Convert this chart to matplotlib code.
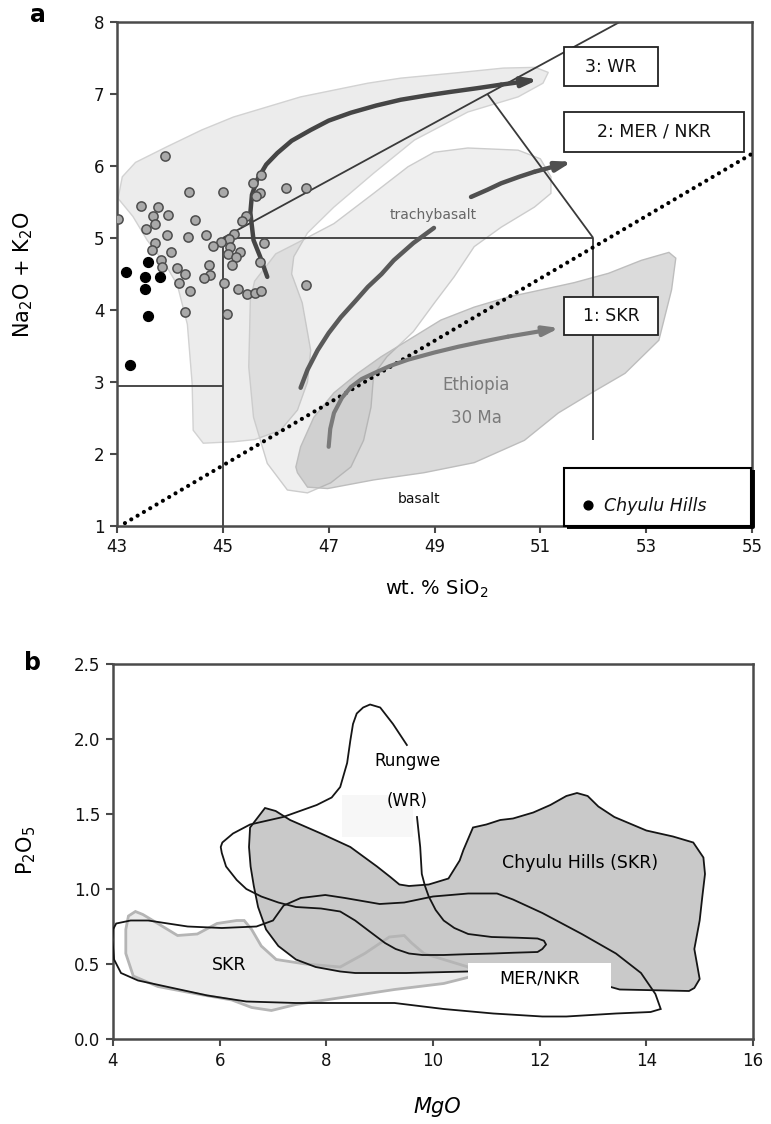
import matplotlib
matplotlib.use('Agg')
import matplotlib.pyplot as plt
from matplotlib.patches import Polygon, Rectangle

plt.rcParams['font.family'] = ['DejaVu Sans']
plt.rcParams['mathtext.fontset'] = 'dejavusans'

# ---------------- Panel a data ----------------
gray_x = [43.91, 44.36, 45.00, 45.57, 45.73, 45.70, 45.62, 46.20, 46.58, 43.02,
          43.45, 43.78, 43.97, 43.68, 43.72, 43.55, 44.48, 45.43, 45.36, 43.95,
          44.35, 44.69, 45.21, 45.11, 44.97, 44.81, 43.71, 43.67, 44.02, 45.13,
          45.10, 45.33, 45.24, 45.17, 45.77, 43.83, 43.85, 44.14, 44.29, 44.17,
          44.73, 44.75, 44.64, 44.38, 45.02, 45.28, 45.46, 45.61, 45.73, 45.71,
          46.57, 44.29, 45.08]
gray_y = [6.14, 5.64, 5.64, 5.77, 5.88, 5.62, 5.58, 5.69, 5.69, 5.26,
          5.44, 5.43, 5.32, 5.30, 5.20, 5.12, 5.25, 5.31, 5.23, 5.04,
          5.02, 5.04, 5.06, 4.98, 4.94, 4.89, 4.93, 4.84, 4.80, 4.87,
          4.78, 4.81, 4.74, 4.63, 4.93, 4.70, 4.60, 4.58, 4.50, 4.38,
          4.63, 4.48, 4.44, 4.27, 4.38, 4.29, 4.22, 4.24, 4.26, 4.66,
          4.35, 3.97, 3.94]
chyulu_x = [43.17, 43.59, 43.52, 43.82, 43.53, 43.59, 43.25]
chyulu_y = [4.53, 4.66, 4.46, 4.46, 4.29, 3.91, 3.24]

# field outlines
fieldA_x = [43.02, 43.1, 43.35, 43.95, 44.6, 45.2, 46.47, 47.74, 48.36, 49.5, 50.3, 50.9,
            51.15, 51.05, 50.58, 49.63, 48.62, 47.85, 47.1, 46.6, 46.34, 46.3, 46.5, 46.66,
            46.6, 46.41, 46.09, 45.6, 45.2, 44.63, 44.44, 44.42, 44.33, 44.14, 43.9, 43.57, 43.3]
fieldA_y = [5.55, 5.85, 6.05, 6.27, 6.5, 6.68, 6.96, 7.15, 7.22, 7.3, 7.36, 7.37,
            7.3, 7.15, 6.96, 6.75, 6.36, 5.9, 5.43, 5.07, 4.74, 4.5, 4.1, 3.44,
            3.0, 2.61, 2.33, 2.2, 2.17, 2.15, 2.33, 2.98, 3.8, 4.35, 4.65, 4.97, 5.3]
fieldB_x = [45.6, 46.0, 46.4, 47.1, 47.85, 48.5, 48.99, 49.63, 50.58, 51.0, 51.2, 51.2,
            50.89, 50.26, 49.75, 49.37, 49.0, 48.6, 48.1, 47.85, 47.8, 47.66, 47.42, 47.04,
            46.6, 46.22, 45.84, 45.58, 45.49, 45.52]
fieldB_y = [4.4, 4.78, 4.93, 5.2, 5.62, 5.99, 6.19, 6.25, 6.22, 6.1, 5.85, 5.62,
            5.43, 5.15, 4.88, 4.46, 4.1, 3.7, 3.35, 3.1, 2.65, 2.19, 1.82, 1.6,
            1.46, 1.5, 1.87, 2.51, 3.21, 4.14]
ethiopia_x = [46.41, 46.6, 46.98, 47.85, 48.8, 49.75, 50.7, 51.34, 51.97, 52.6, 53.24, 53.48,
              53.56, 53.43, 52.91, 52.29, 51.64, 51.02, 50.39, 49.75, 49.12, 48.5, 47.99,
              47.55, 47.1, 46.72, 46.47, 46.38]
ethiopia_y = [1.74, 1.54, 1.52, 1.64, 1.74, 1.88, 2.19, 2.57, 2.85, 3.12, 3.58, 4.28,
              4.72, 4.8, 4.69, 4.51, 4.38, 4.28, 4.18, 4.04, 3.86, 3.58, 3.35,
              3.12, 2.85, 2.51, 2.1, 1.82]

# trend arrows
wr_trend_x = [45.84, 45.70, 45.58, 45.52, 45.55, 45.65, 45.82, 46.03, 46.30, 46.66, 47.0,
              47.42, 47.9, 48.36, 48.85, 49.31, 49.8, 50.26, 50.96]
wr_trend_y = [4.46, 4.75, 4.97, 5.35, 5.60, 5.81, 6.02, 6.18, 6.35, 6.50, 6.63,
              6.74, 6.84, 6.92, 6.98, 7.03, 7.08, 7.13, 7.20]
mer_trend1_x = [46.47, 46.6, 46.79, 47.0, 47.23, 47.5, 47.74, 48.0, 48.23, 48.6, 48.99]
mer_trend1_y = [2.92, 3.17, 3.44, 3.68, 3.90, 4.12, 4.32, 4.5, 4.69, 4.93, 5.14]
mer_trend2_x = [49.69, 50.0, 50.26, 50.6, 50.89, 51.6]
mer_trend2_y = [5.57, 5.67, 5.76, 5.85, 5.92, 6.06]
skr_trend_x = [47.0, 47.03, 47.1, 47.25, 47.42, 47.62, 47.85, 48.15, 48.5, 49.0, 49.45,
               49.9, 50.39, 51.36]
skr_trend_y = [2.10, 2.35, 2.57, 2.78, 2.93, 3.04, 3.12, 3.22, 3.31, 3.41, 3.49,
               3.56, 3.63, 3.75]

# TAS boundaries
tas_lines = [([45, 45], [1, 5]), ([45, 52], [5, 5]), ([43, 45], [2.95, 2.95]),
             ([52, 52], [2.2, 5]), ([45, 52.5], [5, 8]), ([50, 52], [7, 5])]
alk_line_x = [43.15, 55.0]
alk_line_y = [1.04, 6.17]

# ---------------- Panel b data ----------------
chyulu_field_x = [6.57, 6.85, 7.05, 7.32, 7.9, 8.45, 8.95, 9.2, 9.37, 9.55, 9.92, 10.29, 10.5,
                  10.57, 10.75, 11.0, 11.26, 11.5, 11.88, 12.2, 12.5, 12.7, 12.9, 13.1, 13.4, 14.0,
                  14.5, 14.88, 15.07, 15.1, 15.05, 15.0, 14.9, 14.95, 15.0, 14.9, 14.8, 13.5,
                  13.3, 12.0, 10.66, 9.5, 8.54, 8.26, 7.8, 7.43, 7.1, 6.87, 6.72, 6.64, 6.58, 6.55]
chyulu_field_y = [1.41, 1.54, 1.52, 1.46, 1.37, 1.28, 1.15, 1.08, 1.03, 1.02, 1.03, 1.07, 1.19,
                  1.26, 1.41, 1.43, 1.46, 1.47, 1.51, 1.56, 1.62, 1.64, 1.62, 1.55, 1.48, 1.39,
                  1.35, 1.31, 1.21, 1.1, 0.95, 0.79, 0.6, 0.5, 0.40, 0.34, 0.32, 0.33,
                  0.35, 0.40, 0.45, 0.44, 0.44, 0.45, 0.48, 0.53, 0.62, 0.73, 0.88, 1.02, 1.15, 1.28]
mer_field_x = [4.0, 4.06, 4.33, 4.66, 5.4, 6.04, 6.69, 7.0, 7.2, 7.52, 7.98, 8.35, 9.0, 9.46,
               10.0, 10.66, 11.2, 11.5, 12.05, 12.79, 13.43, 13.9, 14.17, 14.27, 14.08, 13.43,
               12.5, 12.05, 11.13, 10.2, 9.28, 8.35, 7.43, 6.5, 5.77, 5.12, 4.47, 4.15, 4.02, 3.99]
mer_field_y = [0.73, 0.77, 0.79, 0.79, 0.75, 0.74, 0.75, 0.79, 0.89, 0.94, 0.96, 0.94, 0.90, 0.91,
               0.95, 0.97, 0.97, 0.93, 0.84, 0.70, 0.57, 0.44, 0.30, 0.20, 0.18, 0.17,
               0.15, 0.15, 0.17, 0.20, 0.24, 0.24, 0.24, 0.25, 0.29, 0.34, 0.39, 0.44, 0.53, 0.66]
skr_field_x = [4.29, 4.42, 4.56, 4.84, 5.21, 5.58, 5.95, 6.32, 6.46, 6.6, 6.78, 7.06, 7.61, 8.26,
               8.72, 9.18, 9.46, 9.6, 9.83, 10.2, 10.66, 10.76, 10.2, 9.28, 8.35, 7.43, 6.97,
               6.6, 6.23, 5.58, 4.84, 4.38, 4.24, 4.24]
skr_field_y = [0.82, 0.85, 0.83, 0.77, 0.69, 0.70, 0.77, 0.79, 0.79, 0.73, 0.62, 0.53, 0.50, 0.48,
               0.57, 0.68, 0.69, 0.64, 0.57, 0.53, 0.48, 0.42, 0.37, 0.33, 0.28, 0.23, 0.19,
               0.21, 0.26, 0.30, 0.35, 0.42, 0.57, 0.73]
rungwe_x = [9.70, 9.76, 9.79, 9.85, 9.92, 10.05, 10.2, 10.4, 10.66, 11.1, 11.6, 11.96, 12.08,
            12.12, 12.05, 11.96, 11.5, 11.13, 10.6, 10.2, 9.8, 9.55, 9.3, 9.1, 8.8, 8.54, 8.26,
            7.9, 7.43, 7.1, 6.78, 6.5, 6.32, 6.12, 6.04, 6.02, 6.05, 6.25, 6.57, 7.19, 7.82,
            8.1, 8.26, 8.39, 8.45, 8.5, 8.57, 8.69, 8.82, 9.01, 9.25, 9.51]
rungwe_y = [1.48, 1.28, 1.10, 1.02, 0.95, 0.86, 0.79, 0.74, 0.70, 0.68, 0.675, 0.67, 0.655,
            0.63, 0.60, 0.58, 0.575, 0.57, 0.565, 0.56, 0.56, 0.57, 0.60, 0.64, 0.72, 0.79, 0.85,
            0.87, 0.88, 0.91, 0.95, 1.0, 1.06, 1.15, 1.24, 1.28, 1.31, 1.37, 1.43, 1.48, 1.56,
            1.61, 1.68, 1.84, 1.99, 2.10, 2.17, 2.21, 2.23, 2.21, 2.10, 1.96]

# ---------------- Figure ----------------
fig = plt.figure(figsize=(7.71, 11.24), dpi=100)
axa = fig.add_axes([117/771, 1-526/1124, 635/771, 504/1124])
axb = fig.add_axes([113/771, 1-1039/1124, 640/771, 375/1124])

spine_col = '#4a4a4a'
for ax in (axa, axb):
    for s in ax.spines.values():
        s.set_color(spine_col)
        s.set_linewidth(1.8)
    ax.tick_params(direction='out', length=5, width=1.5, color=spine_col,
                   labelsize=12, labelcolor='#111111', pad=4)

# ---- panel a ----
axa.set_xlim(43, 55)
axa.set_ylim(1, 8)
axa.set_xticks([43, 45, 47, 49, 51, 53, 55])
axa.set_yticks([1, 2, 3, 4, 5, 6, 7, 8])

axa.add_patch(Polygon(list(zip(fieldA_x, fieldA_y)), closed=True, facecolor='#808080',
                      alpha=0.15, edgecolor='none', zorder=1))
axa.add_patch(Polygon(list(zip(fieldA_x, fieldA_y)), closed=True, facecolor='none',
                      edgecolor='#d2d2d2', lw=1.0, zorder=1))
axa.add_patch(Polygon(list(zip(fieldB_x, fieldB_y)), closed=True, facecolor='#808080',
                      alpha=0.12, edgecolor='none', zorder=1))
axa.add_patch(Polygon(list(zip(fieldB_x, fieldB_y)), closed=True, facecolor='none',
                      edgecolor='#cccccc', lw=1.0, zorder=1))
axa.add_patch(Polygon(list(zip(ethiopia_x, ethiopia_y)), closed=True, facecolor='#808080',
                      alpha=0.28, edgecolor='none', zorder=1.2))
axa.add_patch(Polygon(list(zip(ethiopia_x, ethiopia_y)), closed=True, facecolor='none',
                      edgecolor='#bdbdbd', lw=1.0, zorder=1.2))

for lx, ly in tas_lines:
    axa.plot(lx, ly, color='#3a3a3a', lw=1.3, zorder=2, solid_capstyle='butt')

axa.plot(alk_line_x, alk_line_y, color='black', lw=3, linestyle=(0, (0.01, 1.75)),
         dash_capstyle='round', zorder=3)

def trend(ax, xs, ys, color, lw, style='-|>'):
    ax.plot(xs[:-1], ys[:-1], color=color, lw=lw, zorder=3, solid_capstyle='round')
    ax.annotate('', xy=(xs[-1], ys[-1]), xytext=(xs[-2], ys[-2]),
                arrowprops=dict(arrowstyle=style + ',head_length=0.9,head_width=0.28',
                                color=color, lw=lw, shrinkA=0, shrinkB=0),
                zorder=3)

trend(axa, wr_trend_x, wr_trend_y, '#454545', 3.2)
axa.plot(mer_trend1_x, mer_trend1_y, color='#5a5a5a', lw=3.2, zorder=3,
         solid_capstyle='round')
trend(axa, mer_trend2_x, mer_trend2_y, '#4f4f4f', 3.2)
trend(axa, skr_trend_x, skr_trend_y, '#7a7a7a', 3.0)

axa.scatter(gray_x, gray_y, s=44, facecolor='#a9a9a9', edgecolor='#4d4d4d',
            linewidth=1.1, zorder=4)
axa.scatter(chyulu_x, chyulu_y, s=50, facecolor='black', edgecolor='black', zorder=4)

def box_label(ax, x0, x1, y0, y1, text):
    ax.add_patch(Rectangle((x0, y0), x1 - x0, y1 - y0, facecolor='white',
                           edgecolor='#222222', lw=1.3, zorder=5))
    ax.text((x0 + x1) / 2, (y0 + y1) / 2, text, ha='center', va='center',
            fontsize=12.5, color='#111111', zorder=6)

box_label(axa, 51.45, 53.22, 7.11, 7.65, '3: WR')
box_label(axa, 51.45, 54.85, 6.20, 6.75, '2: MER / NKR')
box_label(axa, 51.45, 53.23, 3.65, 4.18, '1: SKR')

# legend box
axa.add_patch(Rectangle((51.45, 1.0), 3.53, 0.8, facecolor='white', edgecolor='black',
                        lw=1.5, zorder=5, clip_on=False))
axa.plot([51.5, 55.02, 55.02], [0.99, 0.99, 1.78], color='black', lw=2.8, zorder=6,
         clip_on=False, solid_capstyle='butt')
axa.scatter([51.9], [1.29], s=40, color='black', zorder=7)
axa.text(52.2, 1.28, 'Chyulu Hills', style='italic', fontsize=12.5, va='center',
         ha='left', zorder=7, color='#111111')

axa.text(48.97, 5.32, 'trachybasalt', fontsize=10, color='#666666', ha='center',
         va='center', zorder=3)
axa.text(49.79, 2.96, 'Ethiopia', fontsize=12, color='#7a7a7a', ha='center',
         va='center', zorder=3)
axa.text(49.79, 2.50, '30 Ma', fontsize=12, color='#7a7a7a', ha='center',
         va='center', zorder=3)
axa.text(48.71, 1.37, 'basalt', fontsize=10, color='#111111', ha='center',
         va='center', zorder=3)

axa.set_xlabel('wt. % SiO$_2$', fontsize=14)
axa.xaxis.set_label_coords(0.504, -0.103)
axa.set_ylabel('Na$_2$O + K$_2$O', fontsize=15)
axa.yaxis.set_label_coords(-0.129, 0.498)

# ---- panel b ----
axb.set_xlim(4, 16)
axb.set_ylim(0, 2.5)
axb.set_xticks([4, 6, 8, 10, 12, 14, 16])
axb.set_yticks([0.0, 0.5, 1.0, 1.5, 2.0, 2.5])
axb.set_yticklabels(['0.0', '0.5', '1.0', '1.5', '2.0', '2.5'])

axb.add_patch(Rectangle((8.3, 1.35), 1.33, 0.28, facecolor='#f7f7f7', edgecolor='none',
                        zorder=0.5))
axb.add_patch(Polygon(list(zip(skr_field_x, skr_field_y)), closed=True,
                      facecolor='#ebebeb', edgecolor='none', zorder=1))
axb.add_patch(Polygon(list(zip(chyulu_field_x, chyulu_field_y)), closed=True,
                      facecolor='#c9c9c9', edgecolor='none', zorder=1.5))
axb.add_patch(Polygon(list(zip(skr_field_x, skr_field_y)), closed=True,
                      facecolor='none', edgecolor='#b5b5b5', lw=2.0, zorder=2))
axb.add_patch(Polygon(list(zip(chyulu_field_x, chyulu_field_y)), closed=True,
                      facecolor='none', edgecolor='#151515', lw=1.3, zorder=3))
axb.add_patch(Polygon(list(zip(mer_field_x, mer_field_y)), closed=True,
                      facecolor='none', edgecolor='#151515', lw=1.3, zorder=3))
axb.plot(rungwe_x, rungwe_y, color='#151515', lw=1.3, zorder=3)

axb.text(9.52, 1.85, 'Rungwe', fontsize=12, ha='center', va='center', zorder=4)
axb.text(9.52, 1.59, '(WR)', fontsize=12, ha='center', va='center', zorder=4)
axb.text(12.75, 1.17, 'Chyulu Hills (SKR)', fontsize=12.5, ha='center', va='center',
         zorder=4)
axb.text(6.18, 0.49, 'SKR', fontsize=12.5, ha='center', va='center', zorder=4)
axb.add_patch(Rectangle((10.66, 0.316), 2.68, 0.19, facecolor='white', edgecolor='none',
                        zorder=4))
axb.text(12.0, 0.405, 'MER/NKR', fontsize=12.5, ha='center', va='center', zorder=5)

axb.set_xlabel('MgO', fontsize=15, style='italic')
axb.xaxis.set_label_coords(0.506, -0.155)
axb.set_ylabel('P$_2$O$_5$', fontsize=15)
axb.yaxis.set_label_coords(-0.117, 0.504)

fig.text(38/771, 1-15/1124, 'a', fontsize=17, fontweight='bold', ha='center', va='center')
fig.text(33/771, 1-663/1124, 'b', fontsize=17, fontweight='bold', ha='center', va='center')

fig.savefig('out.png', dpi=100)
